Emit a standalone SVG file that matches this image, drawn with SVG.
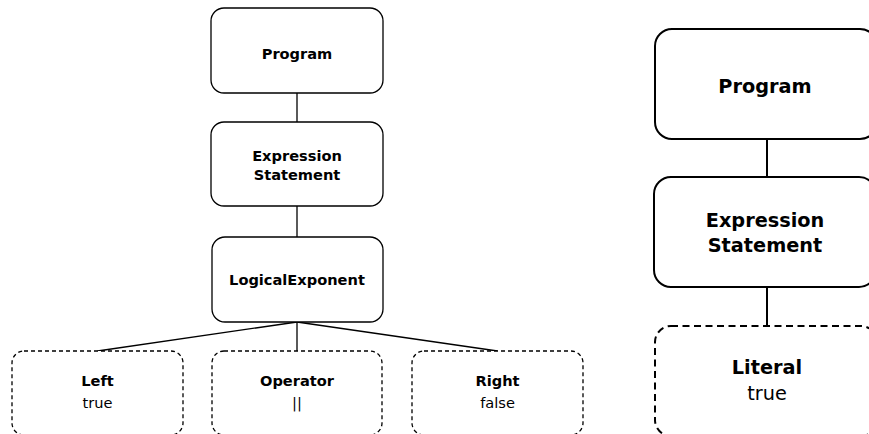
<svg xmlns="http://www.w3.org/2000/svg" width="869" height="434" viewBox="0 0 869 434">
<style>
.n{fill:#fff;stroke:#000;stroke-width:1.3}
.d{fill:#fff;stroke:#000;stroke-width:1.3;stroke-dasharray:4 3}
.N{fill:#fff;stroke:#000;stroke-width:2}
.D{fill:#fff;stroke:#000;stroke-width:2;stroke-dasharray:7 4.5}
.e{stroke:#000;stroke-width:1.3;fill:none}
.E{stroke:#000;stroke-width:2;fill:none}
text{font-family:"DejaVu Sans",Verdana,sans-serif;text-anchor:middle;fill:#000}
.b{font-weight:bold;font-size:14.6px}
.r{font-size:14.6px}
.B{font-weight:bold;font-size:19.3px}
.R{font-size:19.3px}
</style>
<rect width="869" height="434" fill="#fff"/>
<g id="connectors">
<line class="e" x1="297" y1="93" x2="297" y2="122"/>
<line class="e" x1="297" y1="206" x2="297" y2="237"/>
<line class="e" x1="297" y1="322" x2="97.5" y2="351"/>
<line class="e" x1="297" y1="322" x2="297" y2="351"/>
<line class="e" x1="297" y1="322" x2="497.5" y2="351"/>
<line class="E" x1="767" y1="139" x2="767" y2="177"/>
<line class="E" x1="767" y1="287" x2="767" y2="326"/>
</g>
<g id="program1">
<rect class="n" x="211" y="8" width="172" height="85" rx="13"/>
<text class="b" x="297" y="59">Program</text>
</g>
<g id="exprstmt1">
<rect class="n" x="211" y="122" width="172" height="84" rx="13"/>
<text class="b" x="297" y="160.5">Expression</text>
<text class="b" x="297" y="179.5">Statement</text>
</g>
<g id="logical">
<rect class="n" x="212" y="237" width="171" height="85" rx="13"/>
<text class="b" x="297" y="285">LogicalExponent</text>
</g>
<g id="left">
<rect class="d" x="12" y="351" width="171" height="84" rx="12"/>
<text class="b" x="97.5" y="386">Left</text>
<text class="r" x="97.5" y="408">true</text>
</g>
<g id="operator">
<rect class="d" x="212" y="351" width="170" height="84" rx="12"/>
<text class="b" x="297" y="386">Operator</text>
<text class="r" x="297" y="408">||</text>
</g>
<g id="right">
<rect class="d" x="412" y="351" width="171" height="84" rx="12"/>
<text class="b" x="497.5" y="386">Right</text>
<text class="r" x="497.5" y="408">false</text>
</g>
<g id="program2">
<rect class="N" x="655" y="29" width="222" height="110" rx="17"/>
<text class="B" x="765" y="93">Program</text>
</g>
<g id="exprstmt2">
<rect class="N" x="654" y="177" width="222" height="110" rx="17"/>
<text class="B" x="765" y="227">Expression</text>
<text class="B" x="765" y="252">Statement</text>
</g>
<g id="literal">
<rect class="D" x="655" y="326" width="222" height="110" rx="16"/>
<text class="B" x="767" y="374">Literal</text>
<text class="R" x="767" y="400">true</text>
</g>
</svg>
